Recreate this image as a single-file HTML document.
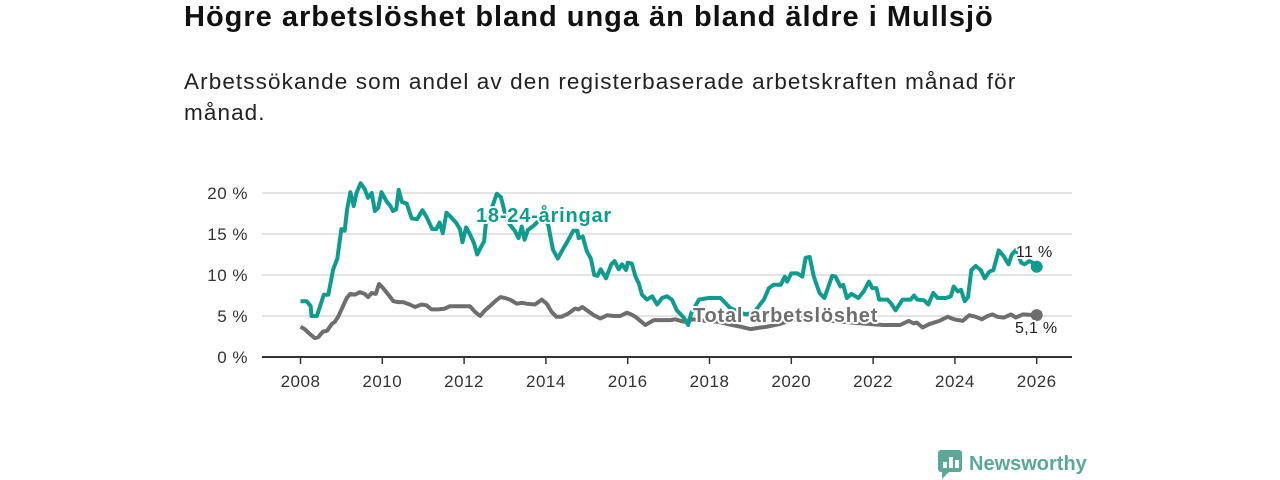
<!DOCTYPE html>
<html><head><meta charset="utf-8"><style>
body{margin:0;width:1280px;height:480px;background:#fff;font-family:"Liberation Sans",sans-serif;overflow:hidden;position:relative}
h1{position:absolute;left:184px;top:1px;margin:0;font-size:29px;letter-spacing:1px;font-weight:bold;color:#111;white-space:nowrap}
p.sub{position:absolute;left:184px;top:66px;margin:0;font-size:22.5px;letter-spacing:1.1px;line-height:31px;color:#222;width:850px}
svg{position:absolute;left:0;top:0}
</style></head><body>
<h1>Högre arbetslöshet bland unga än bland äldre i Mullsjö</h1>
<p class="sub">Arbetssökande som andel av den registerbaserade arbetskraften månad för månad.</p>
<svg id="c" width="1280" height="480"></svg>
<script>
const youthDates=[2008.0,2008.15,2008.25,2008.27,2008.4,2008.57,2008.68,2008.8,2008.9,2009.0,2009.08,2009.14,2009.22,2009.3,2009.37,2009.47,2009.57,2009.65,2009.74,2009.82,2009.9,2009.98,2010.1,2010.2,2010.26,2010.34,2010.4,2010.48,2010.6,2010.72,2010.85,2010.98,2011.08,2011.22,2011.32,2011.4,2011.48,2011.57,2011.69,2011.8,2011.9,2011.96,2012.05,2012.13,2012.24,2012.32,2012.4,2012.49,2012.53,2012.7,2012.8,2012.9,2013.0,2013.08,2013.24,2013.33,2013.41,2013.48,2013.56,2013.7,2013.8,2013.95,2014.06,2014.17,2014.29,2014.41,2014.55,2014.67,2014.77,2014.8,2014.9,2015.0,2015.1,2015.18,2015.26,2015.34,2015.47,2015.6,2015.68,2015.78,2015.86,2015.96,2016.0,2016.1,2016.19,2016.27,2016.35,2016.47,2016.6,2016.72,2016.84,2016.96,2017.08,2017.2,2017.37,2017.48,2017.55,2017.74,2017.98,2018.27,2018.5,2018.7,2018.9,2019.1,2019.25,2019.33,2019.45,2019.57,2019.74,2019.84,2019.9,2020.0,2020.15,2020.27,2020.35,2020.45,2020.55,2020.69,2020.81,2021.0,2021.08,2021.2,2021.27,2021.36,2021.47,2021.64,2021.77,2021.9,2021.98,2022.08,2022.15,2022.35,2022.43,2022.55,2022.72,2022.92,2023.0,2023.08,2023.25,2023.35,2023.47,2023.58,2023.78,2023.9,2023.97,2024.07,2024.15,2024.24,2024.32,2024.4,2024.51,2024.63,2024.73,2024.84,2024.94,2025.07,2025.19,2025.31,2025.39,2025.5,2025.62,2025.7,2025.82,2025.9,2026.0];
const youthValues=[6.8,6.8,6.2,5.0,5.0,7.6,7.6,10.7,12.0,15.6,15.4,18.0,20.1,18.4,20.0,21.2,20.5,19.4,20.0,17.8,18.2,20.1,19.0,18.4,17.8,18.0,20.4,18.9,18.7,16.9,16.8,17.9,17.1,15.6,15.6,16.4,15.1,17.6,17.0,16.4,15.6,14.0,15.8,15.1,13.9,12.5,13.3,14.1,16.2,18.5,19.9,19.5,17.5,16.4,15.4,14.5,15.9,14.3,15.5,16.0,16.5,17.5,16.0,13.1,12.0,13.1,14.3,15.4,15.4,14.5,14.7,12.9,12.0,10.0,9.9,10.7,9.6,11.3,11.7,10.7,11.3,10.6,11.5,11.4,9.8,9.0,7.6,7.0,7.4,6.4,7.2,7.4,7.0,5.7,4.8,3.9,5.3,7.0,7.2,7.2,6.0,5.5,5.2,5.5,6.5,7.0,8.4,8.8,8.8,9.8,9.2,10.2,10.2,9.8,12.1,12.2,9.8,7.8,7.2,9.9,9.8,8.6,8.8,7.2,7.7,7.2,8.0,9.2,8.4,8.4,7.0,7.0,6.6,5.7,7.0,7.0,7.5,7.0,6.9,6.4,7.8,7.2,7.2,7.4,8.6,8.0,8.2,6.8,7.3,10.6,11.1,10.6,9.6,10.4,10.6,13.0,12.3,11.3,12.5,13.1,11.5,11.3,11.7,11.5,11.0];
const totalDates=[2008.0,2008.1,2008.23,2008.35,2008.43,2008.55,2008.65,2008.76,2008.84,2008.92,2009.03,2009.13,2009.22,2009.33,2009.45,2009.57,2009.65,2009.74,2009.84,2009.92,2010.02,2010.15,2010.27,2010.39,2010.51,2010.67,2010.8,2010.96,2011.08,2011.2,2011.37,2011.53,2011.65,2011.82,2011.98,2012.14,2012.27,2012.39,2012.51,2012.63,2012.76,2012.89,2013.0,2013.12,2013.29,2013.41,2013.53,2013.73,2013.9,2014.02,2014.14,2014.26,2014.38,2014.55,2014.71,2014.8,2014.89,2015.0,2015.17,2015.33,2015.5,2015.66,2015.82,2015.98,2016.08,2016.19,2016.43,2016.64,2016.88,2017.04,2017.16,2017.37,2017.6,2017.9,2018.2,2018.55,2018.76,2019.0,2019.25,2019.41,2019.7,2020.0,2020.5,2021.0,2021.5,2022.0,2022.25,2022.66,2022.87,2022.99,2023.07,2023.21,2023.37,2023.62,2023.82,2023.98,2024.19,2024.35,2024.51,2024.66,2024.8,2024.92,2025.04,2025.2,2025.37,2025.49,2025.66,2026.0];
const totalValues=[3.7,3.4,2.8,2.3,2.4,3.1,3.2,4.0,4.3,4.9,6.1,7.2,7.7,7.6,7.9,7.7,7.3,7.8,7.7,8.9,8.4,7.6,6.8,6.7,6.7,6.4,6.1,6.4,6.3,5.8,5.8,5.9,6.2,6.2,6.2,6.2,5.5,5.0,5.7,6.2,6.8,7.3,7.2,7.0,6.5,6.6,6.5,6.4,7.0,6.5,5.5,4.9,4.9,5.3,5.9,5.8,6.1,5.7,5.1,4.7,5.1,5.0,5.0,5.4,5.2,4.9,3.9,4.5,4.5,4.5,4.6,4.3,4.6,4.4,4.3,3.9,3.7,3.4,3.6,3.7,4.0,4.5,5.0,4.4,4.2,4.0,3.9,3.9,4.4,4.1,4.2,3.6,4.0,4.4,4.9,4.6,4.4,5.1,4.9,4.6,5.0,5.2,4.9,4.8,5.2,4.8,5.2,5.1];
const yTicks=[0,5,10,15,20];
const xTicks=[2008,2010,2012,2014,2016,2018,2020,2022,2024,2026];
const ns="http://www.w3.org/2000/svg";
const svg=document.getElementById('c');
const X=v=>300.5+(v-2008)*40.9;
const Y=v=>357-v*8.2;
function mk(t,a,p){const e=document.createElementNS(ns,t);for(const k in a)e.setAttribute(k,a[k]);(p||svg).appendChild(e);return e;}
yTicks.forEach(t=>{
  if(t>0){const g=mk('line',{x1:262,x2:1072,y1:Y(t),y2:Y(t),stroke:'#dcdcdc','stroke-width':1.5});
  
  }
  const l=mk('text',{x:248,y:Y(t)+6,'text-anchor':'end','font-size':17,'letter-spacing':0.5,fill:'#333'});l.textContent=t+' %';
  
  
});
const ax=mk('line',{x1:262,x2:1072,y1:357,y2:357,stroke:'#333','stroke-width':2});


xTicks.forEach(t=>{
  mk('line',{x1:X(t),x2:X(t),y1:357,y2:364,stroke:'#333','stroke-width':1.5});
  const l=mk('text',{x:X(t),y:387,'text-anchor':'middle','font-size':17,'letter-spacing':0.5,fill:'#333'});l.textContent=t;
  
  
});
function line(d,v,c,name){
  const p=mk('path',{d:d.map((x,i)=>(i?'L':'M')+X(x).toFixed(1)+','+Y(v[i]).toFixed(1)).join(''),fill:'none',stroke:c,'stroke-width':4,'stroke-linejoin':'round'});
  
  
  const n=d.length-1;
  const dot=mk('circle',{cx:X(d[n]),cy:Y(v[n]),r:6,fill:c});
  
  
}
line(totalDates,totalValues,'#6e6e6e','total-line');
line(youthDates,youthValues,'#0f9c8f','youth-line');
function lab(x,y,t,c,fs,w,ls,name){
  const e=mk('text',{x:x,y:y,'font-size':fs,'font-weight':w,'letter-spacing':ls,fill:c,stroke:'#fff','stroke-width':4,'paint-order':'stroke','stroke-linejoin':'round'});
  e.textContent=t;
  
  
}
lab(476,222,'18-24-åringar','#0f9c8f',20,'bold',0.8,'youth-series-label');
lab(693,322,'Total arbetslöshet','#6e6e6e',20,'bold',0.8,'total-series-label');
lab(1016,257,'11 %','#222',16,'normal',0.3,'youth-end-value');
lab(1015,333,'5,1 %','#222',16,'normal',0.3,'total-end-value');
const lg=mk('g',{});


mk('rect',{x:938,y:450,width:24,height:22,rx:3,fill:'#5aa897'},lg);
mk('path',{d:'M942,472 L942,479 L949,472 Z',fill:'#5aa897'},lg);
[[943,462,4,6],[949,457,4,11],[955,460,4,8]].forEach(r=>mk('rect',{x:r[0],y:r[1],width:r[2],height:r[3],fill:'#fff'},lg));
const lt=mk('text',{x:969,y:470,'font-size':20,'font-weight':'bold',fill:'#5aa897'},lg);lt.textContent='Newsworthy';
</script>
</body></html>
